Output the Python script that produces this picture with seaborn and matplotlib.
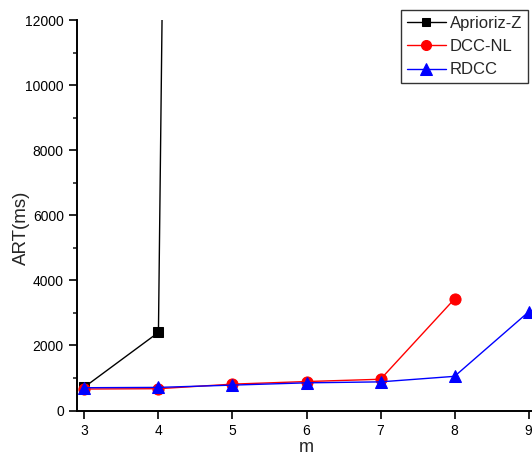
import matplotlib
matplotlib.use("Agg")
import matplotlib.pyplot as plt
import seaborn as sns
import pandas as pd
from matplotlib.ticker import MultipleLocator

m_apriori = [3, 4, 5]
art_apriori = [720, 2400, 200000]
m_dcc = [3, 4, 5, 6, 7, 8]
art_dcc = [660, 670, 810, 890, 960, 3430]
m_rdcc = [3, 4, 5, 6, 7, 8, 9]
art_rdcc = [700, 710, 780, 850, 880, 1050, 3030]
series_names = ["Aprioriz-Z", "DCC-NL", "RDCC"]
x_ticks = [3, 4, 5, 6, 7, 8, 9]
y_ticks = [0, 2000, 4000, 6000, 8000, 10000, 12000]

df = pd.concat([
    pd.DataFrame({"m": m_apriori, "ART": art_apriori, "method": series_names[0]}),
    pd.DataFrame({"m": m_dcc, "ART": art_dcc, "method": series_names[1]}),
    pd.DataFrame({"m": m_rdcc, "ART": art_rdcc, "method": series_names[2]}),
], ignore_index=True)

sns.set_style("ticks")
plt.rcParams["font.family"] = ["Liberation Sans", "DejaVu Sans"]

fig = plt.figure(figsize=(5.32, 4.57), dpi=100)
ax = fig.add_axes([77 / 532, (457 - 410.5) / 457, 459 / 532, 390.5 / 457])

palette = {"Aprioriz-Z": "black", "DCC-NL": "red", "RDCC": "blue"}
markers = {"Aprioriz-Z": "s", "DCC-NL": "o", "RDCC": "^"}
sizes_ms = {"Aprioriz-Z": 7, "DCC-NL": 8, "RDCC": 9}

for name in series_names:
    sub = df[df["method"] == name]
    sns.lineplot(data=sub, x="m", y="ART", ax=ax, color=palette[name],
                 marker=markers[name], markersize=sizes_ms[name],
                 markeredgecolor=palette[name], linewidth=1.0, label=name,
                 sort=False, estimator=None, clip_on=True)

ax.set_xlim(2.9, 9.1)
ax.set_ylim(0, 12000)
ax.set_xticks(x_ticks)
ax.set_yticks(y_ticks)
ax.yaxis.set_minor_locator(MultipleLocator(1000))
ax.tick_params(axis="both", which="major", direction="out", length=6, width=1.2,
               labelsize=10, colors="black")
ax.tick_params(axis="y", which="minor", direction="out", length=3, width=1.2)
for s in ["top", "right"]:
    ax.spines[s].set_visible(False)
for s in ["left", "bottom"]:
    ax.spines[s].set_linewidth(1.4)
    ax.spines[s].set_color("black")

ax.set_xlabel("m", fontsize=13, labelpad=1)
ax.set_ylabel("ART(ms)", fontsize=13.5)
ax.yaxis.set_label_coords(-0.102, 0.467)

leg = ax.legend(loc="upper right", bbox_to_anchor=(528 / 532, 1 - 10 / 457),
                bbox_transform=fig.transFigure, fontsize=12, frameon=True,
                fancybox=False, edgecolor="black", handlelength=2.3,
                handletextpad=0.25, borderpad=0.35, labelspacing=0.5,
                borderaxespad=0, markerscale=0.9)
leg.get_frame().set_linewidth(1.0)

fig.savefig("out.png", dpi=100)
